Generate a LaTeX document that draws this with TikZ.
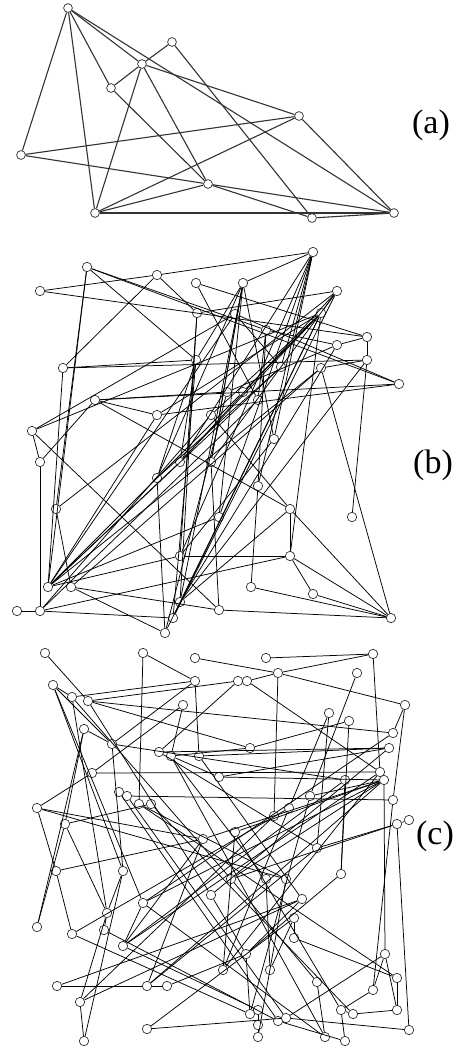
\documentclass[tikz,border=0pt]{standalone}
\usepackage{fontspec}
\setmainfont{Liberation Serif}
\begin{document}
\begin{tikzpicture}[x=1pt,y=-1pt,
  va/.style={circle,draw=black!75,fill=white,inner sep=0pt,minimum size=8.8pt,line width=0.8pt},
  vb/.style={circle,draw=black!80,fill=white,inner sep=0pt,minimum size=9.4pt,line width=0.7pt},
  ea/.style={draw=black!80,line width=1.1pt},
  eb/.style={draw=black,line width=0.75pt},
  lab/.style={font=\fontsize{34}{38}\selectfont,inner sep=0pt}]
\useasboundingbox (0,0) rectangle (476,1049);
% ---------------- (a)
\foreach \n/\x/\y in {1/68/8,2/172/42,3/142/64,4/111/88,5/299/116,6/21/155,7/208/184,8/95/213,9/312/218,10/394/213}
  \node[va] (a\n) at (\x,\y) {};
\foreach \p/\q in {1/6,1/8,1/4,1/3,1/10,2/3,2/9,3/4,3/5,3/7,4/7,8/3,6/5,6/7,8/5,8/7,8/10,7/10,7/9,9/10,5/10}
  \draw[ea] (a\p) -- (a\q);
% ---------------- (b)
\foreach \n/\x/\y in {1/87/267,2/157/275,3/40/291,4/196/283,5/197/313,6/63/368,7/196/360,8/95/400,9/157/415,10/32/431,
 11/313/252,12/243/283,13/337/291,14/235/314,15/321/313,16/266/330,17/367/337,18/337/345,19/367/360,20/281/367,
 21/321/368,22/399/384,23/227/392,24/243/392,25/258/400,26/211/415,27/40/462,28/180/462,29/157/478,30/56/509,
 31/180/556,32/48/587,33/71/587,34/17/611,35/40/611,36/180/602,37/173/618,38/165/633,39/274/439,40/211/462,
 41/258/486,42/219/517,43/290/509,44/352/517,45/290/556,46/251/587,47/313/594,48/219/610,49/391/618}
  \node[vb] (b\n) at (\x,\y) {};
\foreach \p/\q in {3/2,2/11,3/17,1/7,1/30,1/32,1/16,2/6,2/5,4/17,5/36,5/31,5/13,6/7,6/19,6/32,7/37,7/29,7/28,7/12,
 8/9,8/23,8/43,8/22,9/32,9/15,10/27,10/48,10/14,10/15,27/35,27/8,28/15,28/11,28/32,28/13,29/38,29/12,30/33,30/13,
 31/45,31/32,31/11,32/14,32/24,32/20,33/38,33/48,33/21,34/35,35/37,35/45,35/26,36/43,36/37,36/12,36/19,37/13,38/15,
 11/12,11/20,11/41,11/42,11/39,12/40,13/15,14/22,14/20,15/26,15/37,15/45,15/24,16/41,16/18,17/19,17/18,18/23,18/36,
 19/44,19/21,21/49,20/29,22/1,22/9,24/15,25/16,25/35,25/4,26/43,39/12,39/31,40/48,40/12,41/46,42/12,42/32,
 43/45,43/49,45/47,45/49,46/49,47/49,48/49,23/38,21/32,13/40}
  \draw[eb] (b\p) -- (b\q);
% ---------------- (c)
\foreach \n/\x/\y in {1/45/653,2/143/653,3/195/658,4/53/685,5/195/681,6/72/697,7/88/701,8/183/705,9/84/729,10/112/744,
 11/159/752,12/171/756,13/199/756,14/92/773,15/266/658,16/373/654,17/278/673,18/357/673,19/238/681,20/247/681,
 21/405/705,22/329/713,23/349/721,24/393/733,25/389/748,26/250/748,27/380/772,28/219/777,29/345/780,30/384/780,
 31/37/808,32/119/792,33/127/796,34/139/804,35/151/804,36/65/824,37/203/839,38/56/871,39/123/871,40/143/903,
 41/107/913,42/310/796,43/393/800,44/289/808,45/274/816,46/397/824,47/409/820,48/235/832,49/317/848,50/341/874,
 51/231/879,52/266/879,53/286/879,54/211/895,55/302/899,56/37/927,57/72/934,58/104/930,59/123/946,60/57/986,
 61/147/986,62/167/986,63/80/1002,64/147/1029,65/84/1041,66/294/918,67/294/938,68/246/954,69/385/954,70/223/970,
 71/270/970,72/397/978,73/317/982,74/373/990,75/250/1014,76/258/1010,77/341/1010,78/353/1014,79/397/1010,80/278/1021,
 81/286/1018,82/258/1025,83/258/1037,84/325/1037,85/345/1041,86/409/1030}
  \node[vb] (c\n) at (\x,\y) {};
\foreach \p/\q in {1/7,2/34,2/5,3/17,5/13,4/6,4/39,4/40,4/10,6/5,6/41,6/51,7/19,7/26,7/24,7/54,8/12,8/14,9/36,9/10,
 10/5,10/39,10/29,11/19,11/49,12/52,12/84,13/55,14/27,14/31,15/16,16/17,16/27,17/21,17/45,20/17,19/20,18/42,
 21/24,21/43,22/49,23/26,23/50,25/28,25/11,26/12,20/27,28/30,29/50,30/42,30/48,30/37,30/51,30/40,30/69,
 31/37,31/53,31/38,32/80,33/43,34/72,35/78,35/36,36/41,36/56,38/37,38/57,39/41,40/59,41/58,46/47,46/49,46/51,
 46/86,43/74,57/75,58/80,59/76,59/37,59/29,60/61,61/62,60/55,61/37,61/49,63/65,63/41,65/39,64/81,64/66,
 66/67,67/72,68/55,68/62,68/75,68/50,69/74,69/81,69/79,70/48,70/44,71/66,71/52,73/84,73/51,74/77,77/78,78/79,
 77/85,48/77,81/86,80/85,82/83,76/82,84/40,42/75,44/57,45/63,53/83,54/68,55/63,12/28,13/25,22/44,24/40,25/54,
 33/81,34/53,27/70,9/56,27/59,30/61,72/79}
  \draw[eb] (c\p) -- (c\q);
% ---------------- labels
\node[lab] (la) at (431,125) {(a)};
\node[lab] (lb) at (433,465) {(b)};
\node[lab] (lc) at (435,836) {(c)};
\end{tikzpicture}
\end{document}
